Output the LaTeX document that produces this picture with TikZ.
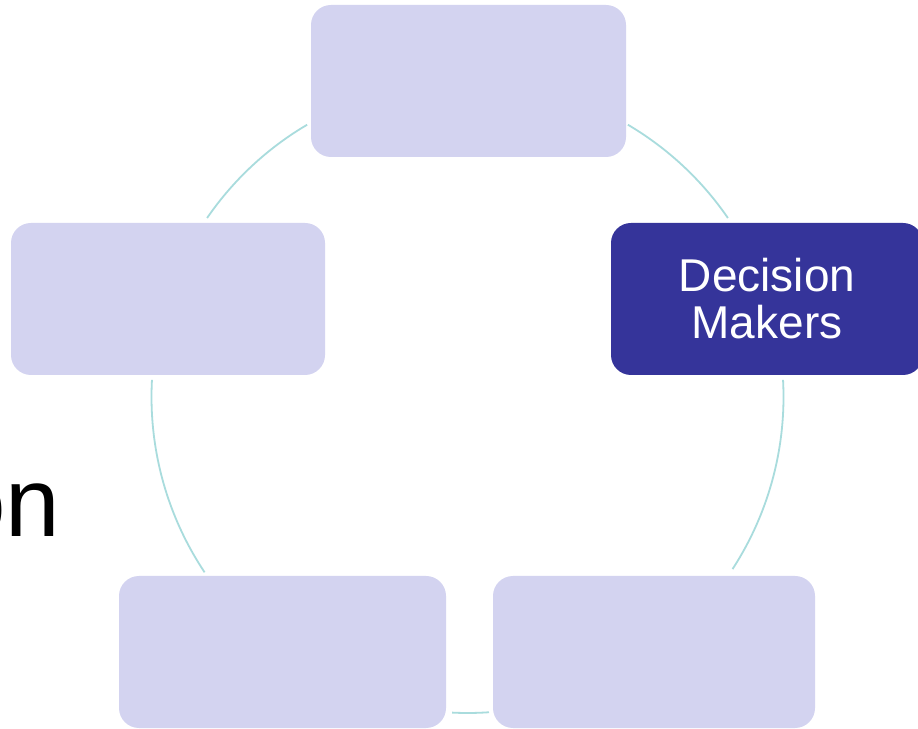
\documentclass[tikz,border=0pt]{standalone}
\usepackage{fontspec}
\setmainfont{Liberation Sans}
\definecolor{boxfill}{HTML}{D3D3F0}
\definecolor{darkbox}{HTML}{35349A}
\definecolor{arccol}{HTML}{A9DCDD}
\begin{document}
\begin{tikzpicture}[x=1pt,y=1pt,
  cyclebox/.style={rectangle, rounded corners=20pt, fill=boxfill, draw=none, minimum height=152pt, inner sep=0pt},
  darkcyclebox/.style={cyclebox, fill=darkbox, text=white, align=center, font=\fontsize{46}{47}\selectfont},
  cyclearc/.style={draw=arccol, line width=1.8pt}]
\useasboundingbox (0,0) rectangle (918,728);
\fill[white] (0,0) rectangle (918,728);
\coordinate (c) at (467.5,331);
% boxes
\node[cyclebox, minimum width=315pt] (top) at (468.5,647) {};
\node[darkcyclebox, minimum width=312pt] (dm) at (767,429) {Decision\\Makers};
\node[cyclebox, minimum width=314pt] (left) at (168,429) {};
\node[cyclebox, minimum width=327pt] (bl) at (282.5,76) {};
\node[cyclebox, minimum width=322pt] (br) at (654,76) {};
% partial text
\node[anchor=base east, inner sep=0pt, font=\fontsize{98}{100}\selectfont] (ontext) at (60.6,191) {on};
% arcs
\draw[cyclearc] (c) ++(145.5:316pt) arc[start angle=145.5, end angle=120.5, radius=316pt];
\draw[cyclearc] (c) ++(59.5:316pt) arc[start angle=59.5, end angle=34.5, radius=316pt];
\draw[cyclearc] (c) ++(3.1:316pt) arc[start angle=3.1, end angle=-33, radius=316pt];
\draw[cyclearc] (c) ++(-86.1:316pt) arc[start angle=-86.1, end angle=-92.8, radius=316pt];
\draw[cyclearc] (c) ++(-146.3:316pt) arc[start angle=-146.3, end angle=-183.1, radius=316pt];
\end{tikzpicture}
\end{document}
